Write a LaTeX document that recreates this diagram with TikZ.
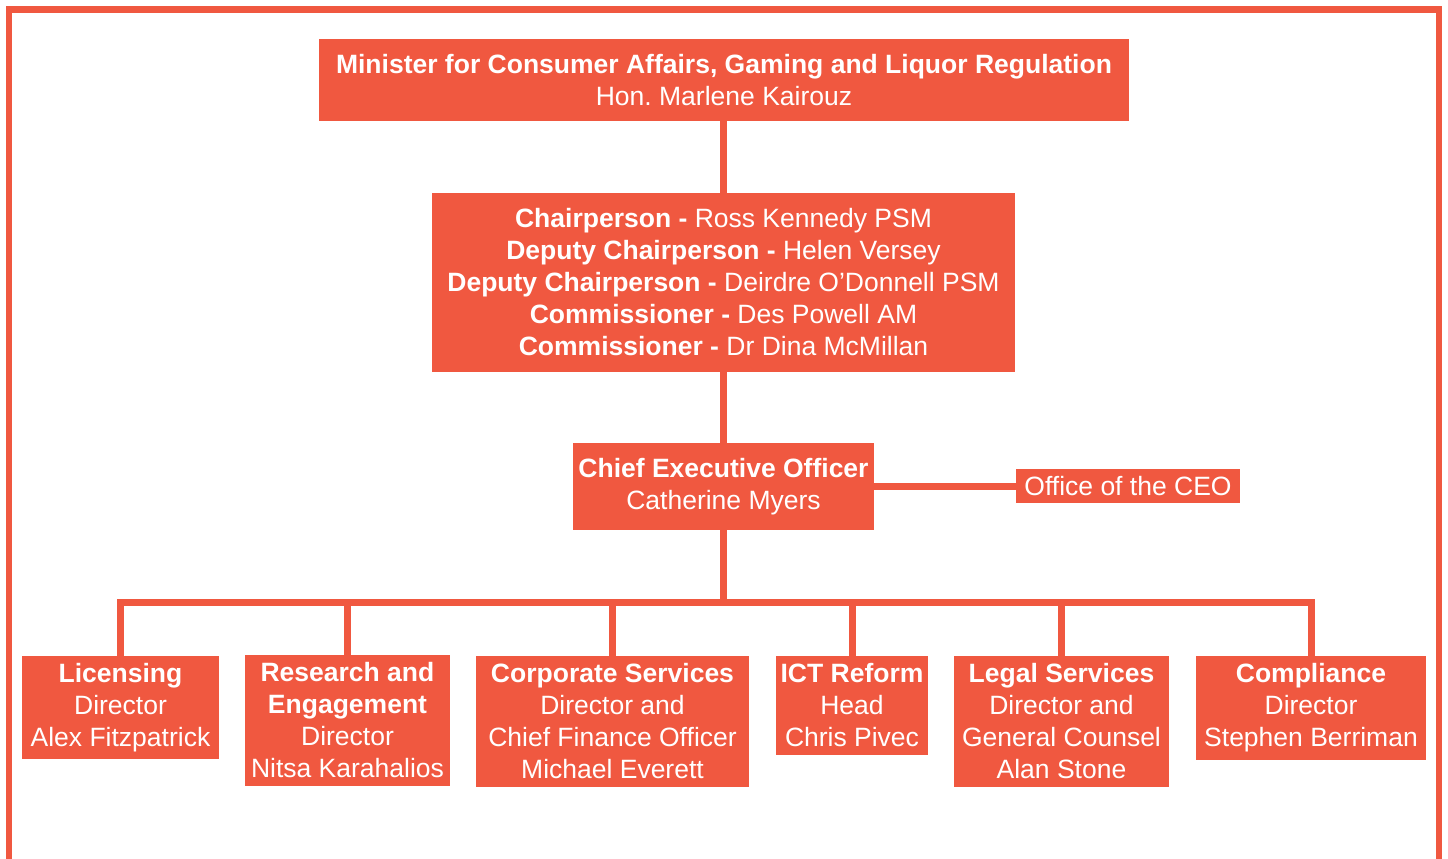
\documentclass[tikz,border=0pt]{standalone}
\usepackage{fontspec}
\setmainfont{Liberation Sans}
\frenchspacing
\definecolor{org}{RGB}{240,88,64}
\tikzset{
  box/.style={fill=org, text=white, align=center, inner sep=0pt, font=\fontsize{26.5}{32}\selectfont},
  conn/.style={draw=org, line width=7pt, line join=miter}
}
\begin{document}
\begin{tikzpicture}[x=1pt,y=-1pt]
\useasboundingbox (0,0) rectangle (1448,859);
\draw[org, line width=6.5pt] (9,9.5) rectangle (1439,900);
\node[box, minimum width=810pt, minimum height=82pt] (min) at (724,80)
  {\textbf{Minister for Consumer Affairs, Gaming and Liquor Regulation}\\Hon. Marlene Kairouz};
\node[box, minimum width=583pt, minimum height=179pt] (com) at (723.5,282.5)
  {\textbf{Chairperson -} Ross Kennedy PSM\\
   \textbf{Deputy Chairperson -} Helen Versey\\
   \textbf{Deputy Chairperson -} Deirdre O’Donnell PSM\\
   \textbf{Commissioner -} Des Powell AM\\
   \textbf{Commissioner -} Dr Dina McMillan};
\node[box, minimum width=301pt, minimum height=87pt] (ceo) at (723.5,486.5)
  {\textbf{Chief Executive Officer}\\Catherine Myers};
\node[box, minimum width=224pt, minimum height=34pt] (off) at (1128,486)
  {Office of the CEO};
\node[box, minimum width=197pt, minimum height=103pt] (lic) at (120.5,707.5)
  {\textbf{Licensing}\\Director\\Alex Fitzpatrick};
\node[box, minimum width=205pt, minimum height=131pt] (res) at (347.5,720.5)
  {\textbf{Research and}\\\textbf{Engagement}\\Director\\Nitsa Karahalios};
\node[box, minimum width=273pt, minimum height=131pt] (cor) at (612.5,721.5)
  {\textbf{Corporate Services}\\Director and\\Chief Finance Officer\\Michael Everett};
\node[box, minimum width=152pt, minimum height=99pt] (ict) at (852,705.5)
  {\textbf{ICT Reform}\\Head\\Chris Pivec};
\node[box, minimum width=215pt, minimum height=131pt] (leg) at (1061.5,721.5)
  {\textbf{Legal Services}\\Director and\\General Counsel\\Alan Stone};
\node[box, minimum width=230pt, minimum height=104pt] (comp) at (1311,708)
  {\textbf{Compliance}\\Director\\Stephen Berriman};
\coordinate (busy) at (0,602);
\draw[conn] (com.north) -- (com.north |- min.south);
\draw[conn] (com.south) -- (ceo.north);
\draw[conn] (ceo.east) -- (ceo.east -| off.west);
\draw[conn] (ceo.south) -- (ceo.south |- busy);
\draw[conn] (lic.north) -- (lic.north |- busy) -- (comp.north |- busy) -- (comp.north);
\draw[conn] (res.north) -- (res.north |- busy);
\draw[conn] (cor.north) -- (cor.north |- busy);
\draw[conn] (ict.north) -- (ict.north |- busy);
\draw[conn] (leg.north) -- (leg.north |- busy);
\end{tikzpicture}
\end{document}
